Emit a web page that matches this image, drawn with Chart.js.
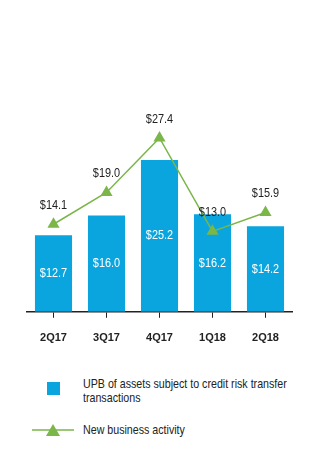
<!DOCTYPE html>
<html>
<head>
<meta charset="utf-8">
<script src="https://cdn.jsdelivr.net/npm/chart.js@4"></script>
<style>
  body { margin: 0; background: #fff; font-family: 'Liberation Sans', Arial, sans-serif; }
  #wrap { position: relative; width: 318px; height: 369px; }
  .legend { position: absolute; left: 0; width: 318px; font-size: 13px; color: #222; line-height: 14px; }
  .sw { position: absolute; }
  .txt { position: absolute; left: 83px; white-space: nowrap; transform: scaleX(0.82); transform-origin: left top; }
</style>
</head>
<body>
<div id="wrap"><canvas id="chart"></canvas></div>
<div class="legend" style="top:377px;">
  <div class="sw" style="left:47px; top:5px; width:13px; height:13px; background:#0aa5de;"></div>
  <div class="txt" style="top:0;">UPB of assets subject to credit risk transfer<br>transactions</div>
</div>
<div class="legend" style="top:423px;">
  <svg class="sw" style="left:32px; top:0;" width="42" height="14">
    <line x1="0" y1="7" x2="42" y2="7" stroke="#7ab648" stroke-width="1.5"/>
    <polygon points="21,1 28,13 14,13" fill="#7ab648"/>
  </svg>
  <div class="txt" style="top:0;">New business activity</div>
</div>
<script>
document.addEventListener('DOMContentLoaded', () => {
    const quarters = ['2Q17', '3Q17', '4Q17', '1Q18', '2Q18'];
    const upbValues = [12.7, 16.0, 25.2, 16.2, 14.2];
    const newBusiness = [14.1, 19.0, 27.4, 13.0, 15.9];

    const barColor = '#0aa5de';
    const lineColor = '#7ab648';
    const fontFamily = "'Liberation Sans', Arial, sans-serif";

    // condensed-looking text: squeeze horizontally around the anchor
    function narrowText(ctx, text, x, y) {
        ctx.save();
        ctx.translate(x, y);
        ctx.scale(0.84, 1);
        ctx.fillText(text, 0, 0);
        ctx.restore();
    }

    // $ labels: white inside the bars, dark above the triangles
    const valueLabels = {
        id: 'valueLabels',
        afterDatasetsDraw(chart) {
            const ctx = chart.ctx;
            ctx.save();
            ctx.font = '13px ' + fontFamily;
            ctx.textAlign = 'center';
            ctx.textBaseline = 'middle';
            chart.getDatasetMeta(1).data.forEach((bar, i) => {
                ctx.fillStyle = '#fff';
                narrowText(ctx, '$' + upbValues[i].toFixed(1), bar.x, (bar.y + bar.base) / 2);
            });
            chart.getDatasetMeta(0).data.forEach((pt, i) => {
                ctx.fillStyle = '#222';
                narrowText(ctx, '$' + newBusiness[i].toFixed(1), pt.x, pt.y - 19);
            });
            ctx.restore();
        }
    };

    const ctx = document.getElementById('chart').getContext('2d');
    new Chart(ctx, {
        data: {
            labels: quarters,
            datasets: [{
                type: 'line',
                label: 'New business activity',
                data: newBusiness,
                yAxisID: 'y2',
                borderColor: lineColor,
                backgroundColor: lineColor,
                borderWidth: 1.5,
                pointStyle: 'triangle',
                pointRadius: 7,
                pointBorderWidth: 0,
                order: 0
            }, {
                type: 'bar',
                label: 'UPB of assets subject to credit risk transfer transactions',
                data: upbValues,
                yAxisID: 'y',
                backgroundColor: barColor,
                barPercentage: 0.7,
                categoryPercentage: 1,
                order: 1
            }]
        },
        options: {
            responsive: true,
            maintainAspectRatio: false,
            animation: false,
            layout: { padding: { left: 27, right: 26, top: 101, bottom: 10 } },
            plugins: { legend: { display: false }, tooltip: { enabled: false } },
            scales: {
                x: {
                    grid: { display: true, drawOnChartArea: false, offset: false, color: '#222', tickLength: 6 },
                    border: { color: '#222', width: 1.5 },
                    ticks: { color: '#222', font: { family: fontFamily, size: 11, weight: 'bold' }, padding: 14 }
                },
                y: { display: false, min: 0, max: 35 },
                y2: { display: false, min: 0.6, max: 33.1 }
            }
        },
        plugins: [valueLabels]
    });
});
</script>
</body>
</html>
